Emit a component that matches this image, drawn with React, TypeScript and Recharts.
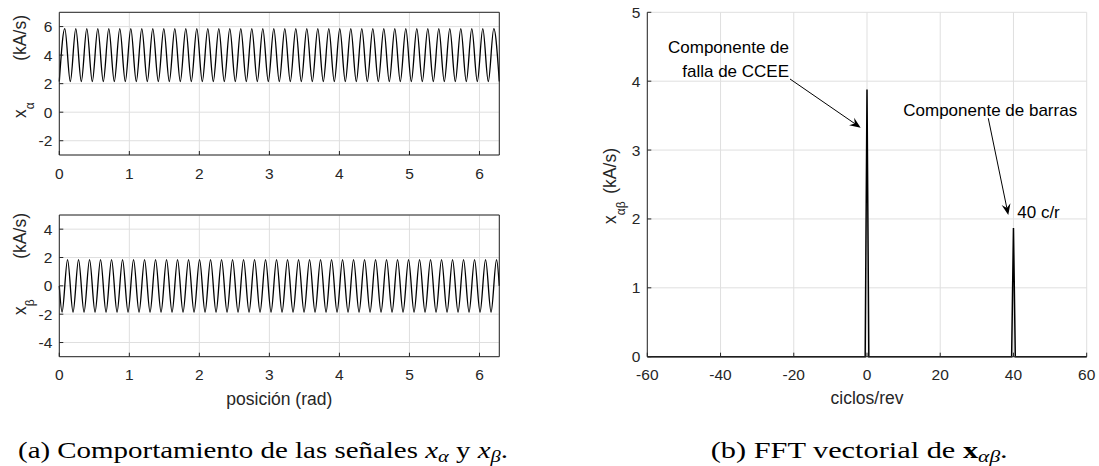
import React from 'react';
import { LineChart, Line, XAxis, YAxis, CartesianGrid, ReferenceLine, ReferenceDot } from 'recharts';

// ---- ticks ----
const posTicks = [0, 1, 2, 3, 4, 5, 6];
const alphaTicks = [-2, 0, 2, 4, 6];
const betaTicks = [-4, -2, 0, 2, 4];
const freqTicks = [-60, -40, -20, 0, 20, 40, 60];
const magTicks = [0, 1, 2, 3, 4, 5];

// x_alpha (kA/s): valles y picos, uno cada pi/40 rad (0 .. 2pi)
const alphaExtremes = [
  2.15, 5.85, 2.15, 5.85, 2.15, 5.85, 2.15, 5.85, 2.15, 5.85,
  2.15, 5.85, 2.15, 5.85, 2.15, 5.85, 2.15, 5.85, 2.15, 5.85,
  2.15, 5.85, 2.15, 5.85, 2.15, 5.85, 2.15, 5.85, 2.15, 5.85,
  2.15, 5.85, 2.15, 5.85, 2.15, 5.85, 2.15, 5.85, 2.15, 5.85,
  2.15, 5.85, 2.15, 5.85, 2.15, 5.85, 2.15, 5.85, 2.15, 5.85,
  2.15, 5.85, 2.15, 5.85, 2.15, 5.85, 2.15, 5.85, 2.15, 5.85,
  2.15, 5.85, 2.15, 5.85, 2.15, 5.85, 2.15, 5.85, 2.15, 5.85,
  2.15, 5.85, 2.15, 5.85, 2.15, 5.85, 2.15, 5.85, 2.15, 5.85,
  2.15,
];

// x_beta (kA/s): 0 en los extremos, valles/picos en multiplos impares de pi/80
const betaValues = [
  0,
  -1.85, 1.85, -1.85, 1.85, -1.85, 1.85, -1.85, 1.85, -1.85, 1.85,
  -1.85, 1.85, -1.85, 1.85, -1.85, 1.85, -1.85, 1.85, -1.85, 1.85,
  -1.85, 1.85, -1.85, 1.85, -1.85, 1.85, -1.85, 1.85, -1.85, 1.85,
  -1.85, 1.85, -1.85, 1.85, -1.85, 1.85, -1.85, 1.85, -1.85, 1.85,
  -1.85, 1.85, -1.85, 1.85, -1.85, 1.85, -1.85, 1.85, -1.85, 1.85,
  -1.85, 1.85, -1.85, 1.85, -1.85, 1.85, -1.85, 1.85, -1.85, 1.85,
  -1.85, 1.85, -1.85, 1.85, -1.85, 1.85, -1.85, 1.85, -1.85, 1.85,
  -1.85, 1.85, -1.85, 1.85, -1.85, 1.85, -1.85, 1.85, -1.85, 1.85,
  0,
];

// FFT vectorial (ciclos/rev, kA/s)
const fftFreq = [-60, -0.5, 0, 0.5, 39.5, 40, 40.5, 60];
const fftMag = [0, 0, 3.88, 0, 0, 1.87, 0, 0];

const TWO_PI = 2 * Math.PI;
const alphaData = alphaExtremes.map((v, k) => ({ pos: (k * Math.PI) / 40, v }));
const betaData = betaValues.map((v, k) => ({
  pos: k === 0 ? 0 : k === betaValues.length - 1 ? TWO_PI : ((2 * k - 1) * Math.PI) / 80,
  v,
}));
const fftData = fftFreq.map((f, i) => ({ f, m: fftMag[i] }));

const SANS = '"Liberation Sans", Arial, Helvetica, sans-serif';
const SERIF = '"Liberation Serif", "Times New Roman", serif';
const AXIS = '#262626';
const GRID = '#dfdfdf';
const TICK_FONT = 15.5;

const tickStyle = { fill: AXIS, fontSize: TICK_FONT, fontFamily: SANS };

const Arrow = (p: any) => {
  const { x1, y1, x2, y2 } = p;
  const dx = x2 - x1;
  const dy = y2 - y1;
  const len = Math.hypot(dx, dy) || 1;
  const ux = dx / len;
  const uy = dy / len;
  const nx = -uy;
  const ny = ux;
  const L = 11;
  const W = 4.5;
  const bx = x2 - ux * L;
  const by = y2 - uy * L;
  const mx = x2 - ux * L * 0.65;
  const my = y2 - uy * L * 0.65;
  const pts = `${x2},${y2} ${bx + nx * W},${by + ny * W} ${mx},${my} ${bx - nx * W},${by - ny * W}`;
  return (
    <g>
      <line x1={x1} y1={y1} x2={mx} y2={my} stroke="#000" strokeWidth={1} />
      <polygon points={pts} fill="#000" />
    </g>
  );
};

const note = (text: string, anchor: 'start' | 'end' | 'middle') => (p: any) => (
  <text x={p.cx} y={p.cy} textAnchor={anchor} fontFamily={SANS} fontSize={17} fill="#000">
    {text}
  </text>
);

export default function App() {
  return (
    <div
      style={{
        position: 'absolute',
        left: 0,
        top: 0,
        width: 1099,
        height: 466,
        background: '#fff',
        overflow: 'hidden',
      }}
    >
      {/* x_alpha */}
      <div style={{ position: 'absolute', left: 0, top: 0 }}>
        <LineChart width={520} height={200} data={alphaData} margin={{ top: 12.3, right: 20.7, bottom: 0, left: 0 }}>
          <CartesianGrid stroke={GRID} />
          <XAxis
            dataKey="pos"
            type="number"
            domain={[0, TWO_PI]}
            ticks={posTicks}
            interval={0}
            height={45}
            tickSize={-4}
            tickMargin={16.5}
            tick={tickStyle}
            axisLine={{ stroke: AXIS }}
            tickLine={{ stroke: AXIS }}
          />
          <XAxis xAxisId="top" orientation="top" mirror type="number" domain={[0, TWO_PI]} ticks={posTicks} interval={0} tickSize={4} tick={false} axisLine={{ stroke: AXIS }} tickLine={{ stroke: AXIS }} />
          <YAxis
            type="number"
            domain={[-3, 7]}
            ticks={alphaTicks}
            interval={0}
            width={59.3}
            tickSize={-4}
            tickMargin={11}
            tick={tickStyle}
            axisLine={{ stroke: AXIS }}
            tickLine={{ stroke: AXIS }}
          />
          <YAxis yAxisId="right" orientation="right" mirror type="number" domain={[-3, 7]} ticks={alphaTicks} interval={0} tickSize={4} tick={false} axisLine={{ stroke: AXIS }} tickLine={{ stroke: AXIS }} />
          <Line dataKey="v" type="monotone" stroke="#000" strokeWidth={1.3} dot={false} isAnimationActive={false} />
        </LineChart>
      </div>

      {/* x_beta */}
      <div style={{ position: 'absolute', left: 0, top: 200 }}>
        <LineChart width={520} height={220} data={betaData} margin={{ top: 15, right: 20.7, bottom: 0, left: 0 }}>
          <CartesianGrid stroke={GRID} />
          <XAxis
            dataKey="pos"
            type="number"
            domain={[0, TWO_PI]}
            ticks={posTicks}
            interval={0}
            height={63.3}
            tickSize={-4}
            tickMargin={16.5}
            tick={tickStyle}
            axisLine={{ stroke: AXIS }}
            tickLine={{ stroke: AXIS }}
          />
          <XAxis xAxisId="top" orientation="top" mirror type="number" domain={[0, TWO_PI]} ticks={posTicks} interval={0} tickSize={4} tick={false} axisLine={{ stroke: AXIS }} tickLine={{ stroke: AXIS }} />
          <YAxis
            type="number"
            domain={[-5, 5]}
            ticks={betaTicks}
            interval={0}
            width={59.3}
            tickSize={-4}
            tickMargin={11}
            tick={tickStyle}
            axisLine={{ stroke: AXIS }}
            tickLine={{ stroke: AXIS }}
          />
          <YAxis yAxisId="right" orientation="right" mirror type="number" domain={[-5, 5]} ticks={betaTicks} interval={0} tickSize={4} tick={false} axisLine={{ stroke: AXIS }} tickLine={{ stroke: AXIS }} />
          <Line dataKey="v" type="monotone" stroke="#000" strokeWidth={1.3} dot={false} isAnimationActive={false} />
        </LineChart>
      </div>

      {/* FFT */}
      <div style={{ position: 'absolute', left: 590, top: 0 }}>
        <LineChart width={509} height={420} data={fftData} margin={{ top: 12.3, right: 12.3, bottom: 0, left: 0 }}>
          <CartesianGrid stroke={GRID} />
          <XAxis
            dataKey="f"
            type="number"
            domain={[-60, 60]}
            ticks={freqTicks}
            interval={0}
            height={63.3}
            tickSize={-4}
            tickMargin={16.5}
            tick={tickStyle}
            axisLine={{ stroke: AXIS }}
            tickLine={{ stroke: AXIS }}
          />
          <YAxis
            type="number"
            domain={[0, 5]}
            ticks={magTicks}
            interval={0}
            width={57.3}
            tickSize={-4}
            tickMargin={11}
            tick={tickStyle}
            axisLine={{ stroke: AXIS }}
            tickLine={{ stroke: AXIS }}
          />
          <Line dataKey="m" type="linear" stroke="#000" strokeWidth={1.5} dot={false} isAnimationActive={false} />
          <ReferenceLine segment={[{ x: -21.03, y: 4.032 }, { x: -1.73, y: 3.325 }]} shape={Arrow} />
          <ReferenceLine segment={[{ x: 33.12, y: 3.462 }, { x: 38.58, y: 2.058 }]} shape={Arrow} />
          <ReferenceDot x={-21.3} y={4.405} r={0} shape={note('Componente de', 'end')} />
          <ReferenceDot x={-21.3} y={4.067} r={0} shape={note('falla de CCEE', 'end')} />
          <ReferenceDot x={9.9} y={3.495} r={0} shape={note('Componente de barras', 'start')} />
          <ReferenceDot x={41.04} y={2.01} r={0} shape={note('40 c/r', 'start')} />
        </LineChart>
      </div>

      {/* axis titles and captions */}
      <svg width={1099} height={466} style={{ position: 'absolute', left: 0, top: 0, pointerEvents: 'none' }}>
        <g fontFamily={SANS} fill={AXIS} fontSize={17.5}>
          <text transform="translate(26.2,118) rotate(-90)">
            x<tspan fontSize={12} dy={8}>α</tspan>
          </text>
          <text transform="translate(26.2,15) rotate(-90)" textAnchor="end">(kA/s)</text>

          <text transform="translate(26.2,315) rotate(-90)">
            x<tspan fontSize={12} dy={8}>β</tspan>
          </text>
          <text transform="translate(26.2,213) rotate(-90)" textAnchor="end">(kA/s)</text>

          <text transform="translate(616,224) rotate(-90)">
            x<tspan fontSize={12} dy={9}>αβ</tspan>
          </text>
          <text transform="translate(616,148) rotate(-90)" textAnchor="end">(kA/s)</text>

          <text x={279.3} y={404.5} textAnchor="middle">posición (rad)</text>
          <text x={867} y={403.5} textAnchor="middle">ciclos/rev</text>
        </g>
        <g fontFamily={SERIF} fill="#000" fontSize={22.6}>
          <text x={18} y={457.6} textLength={490} lengthAdjust="spacingAndGlyphs">
            {'(a) Comportamiento de las señales '}
            <tspan fontStyle="italic">x</tspan>
            <tspan fontStyle="italic" fontSize={16} dy={4}>α</tspan>
            <tspan dy={-4}>{' y '}</tspan>
            <tspan fontStyle="italic">x</tspan>
            <tspan fontStyle="italic" fontSize={16} dy={4}>β</tspan>
            <tspan dy={-4}>.</tspan>
          </text>
          <text x={710.7} y={457.6} textLength={297} lengthAdjust="spacingAndGlyphs">
            {'(b) FFT vectorial de '}
            <tspan fontWeight="bold">x</tspan>
            <tspan fontStyle="italic" fontSize={16} dy={4}>αβ</tspan>
            <tspan dy={-4}>.</tspan>
          </text>
        </g>
      </svg>
    </div>
  );
}
